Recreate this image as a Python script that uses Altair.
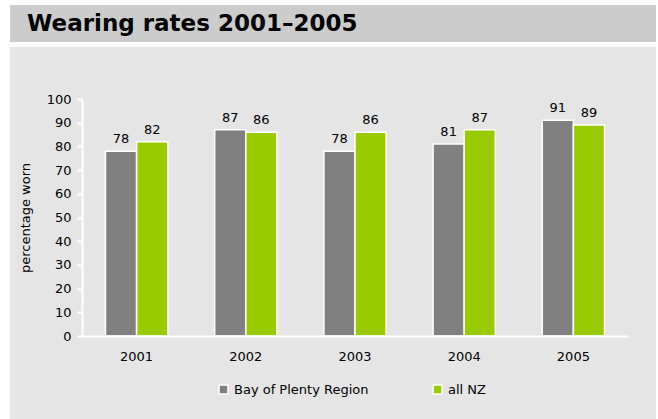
import altair as alt
import pandas as pd

years = ["2001", "2002", "2003", "2004", "2005"]
bop = [78, 87, 78, 81, 91]
nz = [82, 86, 86, 87, 89]
series = ["Bay of Plenty Region", "all NZ"]
colors = ["#808080", "#99cc00"]
yticks = [0, 10, 20, 30, 40, 50, 60, 70, 80, 90, 100]

rows = []
for i, y in enumerate(years):
    rows.append({"year": y, "series": series[0], "value": bop[i]})
    rows.append({"year": y, "series": series[1], "value": nz[i]})
df = pd.DataFrame(rows)

W, H = 546, 237
FONT = "DejaVu Sans"

bg = alt.Chart(pd.DataFrame({"a": [0]})).mark_rect(color="#e5e5e5", clip=False).encode(
    x=alt.value(-72), x2=alt.value(574), y=alt.value(-52), y2=alt.value(320)
)
titlebar = alt.Chart(pd.DataFrame({"a": [0]})).mark_rect(color="#cccccc", clip=False).encode(
    x=alt.value(-72), x2=alt.value(574), y=alt.value(-94), y2=alt.value(-57)
)
titletext = alt.Chart(pd.DataFrame({"t": ["Wearing rates 2001–2005"]})).mark_text(
    font=FONT, fontSize=23, fontWeight="bold", align="left", baseline="middle", color="#000000"
).encode(x=alt.value(-55), y=alt.value(-75), text="t:N")

xaxis = alt.Axis(labelAngle=0, ticks=False, domainColor="white", domainWidth=2,
                 labelFont=FONT, labelFontSize=13, labelColor="#000000", labelPadding=14,
                 zindex=1)
yaxis = alt.Axis(values=yticks, grid=False, domainColor="white",
                 domainWidth=2, tickColor="white", tickWidth=2, tickSize=5,
                 labelOverlap=False, labelBound=False, labelFlush=False,
                 labelFont=FONT, labelFontSize=13, labelColor="#000000", labelPadding=6,
                 titleFont=FONT, titleFontSize=13, titleFontWeight="normal",
                 titleColor="#000000", titlePadding=14, zindex=1)
xscale = alt.Scale(paddingInner=0.43, paddingOuter=0.215)
yscale = alt.Scale(domain=[0, 100])

def xenc():
    return alt.X("year:N", title=None, sort=years, scale=xscale, axis=xaxis)

def yenc():
    return alt.Y("value:Q", title="percentage worn", scale=yscale, axis=yaxis)

bars = alt.Chart(df).mark_bar(stroke="white", strokeWidth=1.5).encode(
    x=xenc(), y=yenc(),
    xOffset=alt.XOffset("series:N", sort=series),
    color=alt.Color("series:N", sort=series, title=None,
                    scale=alt.Scale(domain=series, range=colors),
                    legend=alt.Legend(orient="none", legendX=135, legendY=284, direction="horizontal",
                                      symbolType="square", symbolSize=80, symbolStrokeColor="white",
                                      symbolStrokeWidth=1.5, labelFont=FONT, labelFontSize=13,
                                      labelColor="#000000", columnPadding=61, labelOffset=4,
                                      zindex=1)),
)
labels = alt.Chart(df).mark_text(font=FONT, fontSize=13, dy=-12, color="#000000").encode(
    x=xenc(), y=yenc(),
    xOffset=alt.XOffset("series:N", sort=series),
    text="value:Q",
)

chart = alt.layer(bg, titlebar, titletext, bars, labels).properties(
    width=W, height=H,
    padding={"left": 82, "top": 99, "right": 30, "bottom": 83},
    autosize=alt.AutoSizeParams(type="none"),
    background="white",
).configure_view(stroke=None, fill=None)

chart.save("out.html", embed_options={"renderer": "svg", "actions": False})
